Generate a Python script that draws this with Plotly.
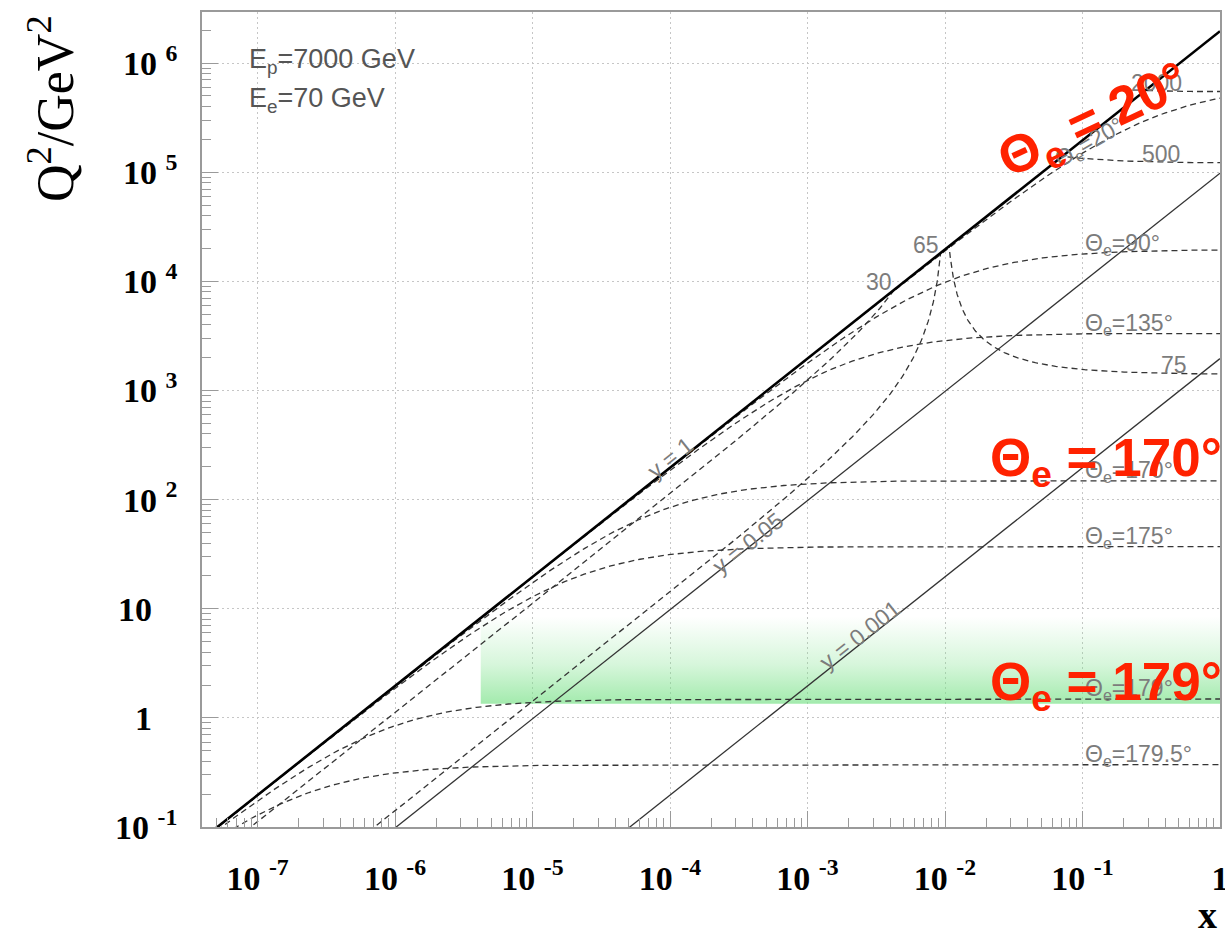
import numpy as np
import plotly.graph_objects as go

# Beam energies (GeV)
E_P = 7000.0
E_E = 70.0

# Lines of constant inelasticity y
Y_LINES = [1.0, 0.05, 0.001]
Y_LINE_TEXT = ["y = 1", "y = 0.05", "y = 0.001"]

# Curves of constant scattered-electron polar angle (degrees)
THETA_E = [20.0, 90.0, 135.0, 170.0, 175.0, 179.0, 179.5]

# Curves of constant scattered-electron energy (GeV)
E_PRIME = [30.0, 65.0, 75.0, 500.0, 2000.0]

# Angles highlighted with large red captions
THETA_HIGHLIGHT = [20.0, 170.0, 179.0]

# Shaded low-Q2 acceptance band
BAND_X = [4.2e-6, 1.0]
BAND_Q2 = [1.35, 8.5]

# Axis ticks
X_TICKS = [1e-7, 1e-6, 1e-5, 1e-4, 1e-3, 1e-2, 1e-1, 1.0]
X_TICK_TEXT = ["10\u00a0<sup>-7</sup>", "10\u00a0<sup>-6</sup>", "10\u00a0<sup>-5</sup>",
               "10\u00a0<sup>-4</sup>", "10\u00a0<sup>-3</sup>", "10\u00a0<sup>-2</sup>",
               "10\u00a0<sup>-1</sup>", "1"]
Y_TICKS = [1e-1, 1.0, 10.0, 1e2, 1e3, 1e4, 1e5, 1e6]
Y_TICK_TEXT = ["10\u00a0<sup>-1</sup>", "1\u00a0\u00a0\u00a0", "10\u00a0\u00a0\u00a0",
               "10\u00a0<sup>2</sup>", "10\u00a0<sup>3</sup>", "10\u00a0<sup>4</sup>",
               "10\u00a0<sup>5</sup>", "10\u00a0<sup>6</sup>"]

X_RANGE = [-7.404, 0.0]
Y_RANGE = [-1.0, 6.468]

S = 4.0 * E_E * E_P  # centre-of-mass energy squared


def theta_curve(theta):
    """x, Q2 along a line of fixed electron angle (angle w.r.t. proton beam)."""
    k = 4.0 * E_E ** 2 / np.tan(np.radians(theta) / 2.0) ** 2
    y = np.concatenate([np.logspace(-7, np.log10(0.5), 400),
                        1.0 - np.logspace(np.log10(0.5), -11, 500)[1:]])
    q2 = k * (1.0 - y)
    return q2 / (S * y), q2


def energy_curve(ep):
    """x, Q2 along a line of fixed scattered-electron energy."""
    if ep < E_E:
        c = np.logspace(-11, 0, 700)
    else:
        yy = np.logspace(-8, 0, 700)
        c = 1.0 - (1.0 - yy) * E_E / ep
    q2 = 4.0 * E_E * ep * c
    y = 1.0 - (ep / E_E) * (1.0 - c)
    return q2 / (S * y), q2


fig = go.Figure()

# green band
fig.add_trace(go.Scatter(
    x=[BAND_X[0], BAND_X[1], BAND_X[1], BAND_X[0], BAND_X[0]],
    y=[BAND_Q2[0], BAND_Q2[0], BAND_Q2[1], BAND_Q2[1], BAND_Q2[0]],
    mode="none", fill="toself",
    fillgradient=dict(type="vertical",
                      colorscale=[[0.0, "rgba(120,225,135,0.68)"],
                                  [0.45, "rgba(120,225,135,0.30)"],
                                  [1.0, "rgba(120,225,135,0.0)"]]),
    hoverinfo="skip", showlegend=False))

DASH = "6px,4px"
CURVE_COLOR = "#353535"

theta_data = {}
for th in THETA_E:
    xs, q2 = theta_curve(th)
    theta_data[th] = (xs, q2)
    fig.add_trace(go.Scatter(x=xs, y=q2, mode="lines",
                             line=dict(color=CURVE_COLOR, width=1.3, dash=DASH),
                             hoverinfo="skip", showlegend=False))

energy_data = {}
for ep in E_PRIME:
    xs, q2 = energy_curve(ep)
    energy_data[ep] = (xs, q2)
    fig.add_trace(go.Scatter(x=xs, y=q2, mode="lines",
                             line=dict(color=CURVE_COLOR, width=1.3, dash=DASH),
                             hoverinfo="skip", showlegend=False))

x_line = np.array([1e-9, 1.0])
for yv in Y_LINES:
    fig.add_trace(go.Scatter(x=x_line, y=S * x_line * yv, mode="lines",
                             line=dict(color="#000000" if yv == 1.0 else "#333333",
                                       width=2.6 if yv == 1.0 else 1.3),
                             hoverinfo="skip", showlegend=False))

GRAY = "#7c7c7c"
LABEL_FONT = dict(family="Liberation Sans", size=23, color=GRAY)


def q2_at(curve, x):
    xs, q2 = curve
    order = np.argsort(xs)
    return float(np.interp(np.log10(x), np.log10(xs[order]), np.log10(q2[order])))


annotations = []

# angle labels at x = 0.1
for th in THETA_E:
    if th == 20.0:
        continue
    txt = "\u0398<sub>e</sub>=%s\u00b0" % (("%g" % th))
    annotations.append(dict(x=-1.0, y=q2_at(theta_data[th], 0.1), xref="x", yref="y",
                            text=txt, showarrow=False, xanchor="left", yanchor="middle",
                            yshift=9, font=LABEL_FONT))
# 20 degree label runs along its curve
annotations.append(dict(x=-0.95, y=q2_at(theta_data[20.0], 10 ** -0.95), xref="x", yref="y",
                        text="\u0398<sub>e</sub>=20\u00b0", showarrow=False, textangle=-30,
                        yshift=6, font=LABEL_FONT))

# energy labels
for ep in [30.0, 65.0]:
    q2c = 4.0 * E_E * ep
    annotations.append(dict(x=np.log10(q2c / S), y=np.log10(q2c), xref="x", yref="y",
                            text="%g" % ep, showarrow=False, xanchor="right",
                            yanchor="middle", yshift=8, font=LABEL_FONT))
for ep, lx in [(75.0, -0.335), (500.0, -0.43), (2000.0, -0.465)]:
    annotations.append(dict(x=lx, y=q2_at(energy_data[ep], 10 ** lx), xref="x", yref="y",
                            text="%g" % ep, showarrow=False, xanchor="center",
                            yanchor="middle", yshift=8, font=LABEL_FONT))

# y-line labels
for yv, txt, lx, ys in zip(Y_LINES, Y_LINE_TEXT, [-4.0, -3.43, -2.62], [10, 4, 10]):
    annotations.append(dict(x=lx, y=np.log10(S * yv * 10 ** lx), xref="x", yref="y",
                            text=txt, showarrow=False, textangle=-38.4, yshift=ys,
                            font=LABEL_FONT))

# beam energies
BEAM_FONT = dict(family="Liberation Sans", size=27, color="#555555")
annotations.append(dict(x=0.0442, y=(827 - 61) / 815, xref="paper", yref="paper",
                        text="E<sub>p</sub>=7000 GeV", showarrow=False, xanchor="left",
                        yanchor="middle", font=BEAM_FONT))
annotations.append(dict(x=0.0442, y=(827 - 100) / 815, xref="paper", yref="paper",
                        text="E<sub>e</sub>=70 GeV", showarrow=False, xanchor="left",
                        yanchor="middle", font=BEAM_FONT))

# red highlight captions
RED = "#ff2200"
RED_FONT = dict(family="Liberation Sans", size=53, color=RED)
red_pos = {20.0: dict(x=(1094 - 202) / 1018, y=(827 - 122) / 815, textangle=-25,
                      xanchor="center"),
           170.0: dict(x=1.004, y=(827 - 462) / 815, textangle=0, xanchor="right"),
           179.0: dict(x=1.004, y=(827 - 685) / 815, textangle=0, xanchor="right")}
for th in THETA_HIGHLIGHT:
    p = red_pos[th]
    annotations.append(dict(x=p["x"], y=p["y"], xref="paper", yref="paper",
                            text="<b>\u0398<sub>e</sub> = %g\u00b0</b>" % th,
                            showarrow=False, xanchor=p["xanchor"], yanchor="middle",
                            textangle=p["textangle"], font=RED_FONT))

# axis titles
annotations.append(dict(x=(52 - 202) / 1018, y=(827 - 109) / 815, xref="paper", yref="paper",
                        text="Q<sup>2</sup>/GeV<sup>2</sup>", showarrow=False,
                        xanchor="center", yanchor="middle",
                        textangle=-90, font=dict(family="Liberation Serif", size=52,
                                                 color="black")))
annotations.append(dict(x=(1207 - 202) / 1018, y=(827 - 915) / 815, xref="paper", yref="paper",
                        text="<b>x</b>", showarrow=False, xanchor="center", yanchor="middle",
                        font=dict(family="Liberation Serif", size=38, color="black")))

x_minor = [m * 10.0 ** k for k in range(-8, 0) for m in range(2, 10)
           if np.log10(m * 10.0 ** k) >= X_RANGE[0]]
y_minor = [m * 10.0 ** k for k in range(-1, 7) for m in range(2, 10)
           if np.log10(m * 10.0 ** k) <= Y_RANGE[1]]

AX_COLOR = "#9a9a9a"
TICK_FONT = dict(family="Liberation Serif", size=34, color="black", weight="bold")
common = dict(type="log", showline=True, linecolor=AX_COLOR, linewidth=1.5, mirror=True,
              ticks="inside", ticklen=16, tickcolor=AX_COLOR, tickwidth=1,
              showgrid=True, gridcolor="#c6c6c6", griddash="2px,3px", gridwidth=1.3,
              zeroline=False, tickmode="array", tickfont=TICK_FONT,
              ticklabeloverflow="allow")

fig.update_layout(
    width=1225, height=933,
    margin=dict(l=202, r=5, t=12, b=106, autoexpand=False),
    paper_bgcolor="white", plot_bgcolor="white",
    showlegend=False,
    annotations=annotations,
    xaxis=dict(range=X_RANGE, tickvals=X_TICKS, ticktext=X_TICK_TEXT,
               ticklabelstandoff=20,
               minor=dict(tickmode="array", tickvals=x_minor, ticks="inside", ticklen=9,
                          tickcolor=AX_COLOR, showgrid=False),
               **common),
    yaxis=dict(range=Y_RANGE, tickvals=Y_TICKS, ticktext=Y_TICK_TEXT,
               ticklabelstandoff=16,
               minor=dict(tickmode="array", tickvals=y_minor, ticks="inside", ticklen=9,
                          tickcolor=AX_COLOR, showgrid=False),
               **common),
)

fig.write_html("out.html")
